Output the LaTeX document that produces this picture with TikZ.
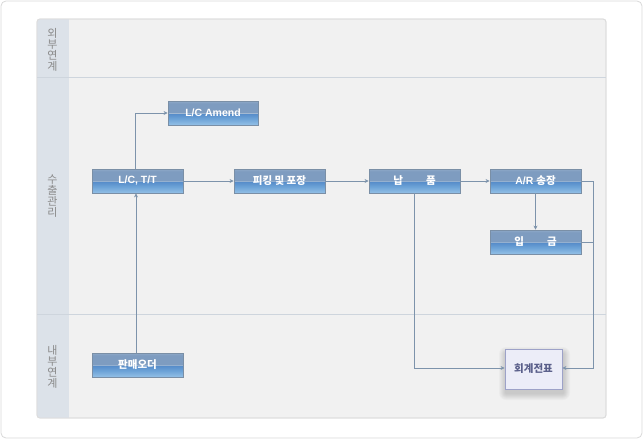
\documentclass[tikz,border=0pt]{standalone}
\usepackage{fontspec}
\setmainfont{Liberation Sans}
\newfontfamily\kr{Noto Sans CJK KR}
\usetikzlibrary{arrows.meta,calc}

\definecolor{framegray}{HTML}{D9D9D9}
\definecolor{panelfill}{HTML}{F1F1F1}
\definecolor{panelline}{HTML}{DCDCDC}
\definecolor{lanefill}{HTML}{DCE2E9}
\definecolor{laneline}{HTML}{CED5DD}
\definecolor{lanetext}{HTML}{8A8A8A}
\definecolor{wire}{HTML}{7D93AB}
\definecolor{boxedge}{HTML}{7A8FA6}
\definecolor{bbot}{HTML}{93C0E6}
\definecolor{bmid}{HTML}{6DA3D7}
\definecolor{bdeep}{HTML}{558BC9}
\definecolor{bband}{HTML}{A3B9D2}
\definecolor{btopa}{HTML}{7E9CC0}
\definecolor{btop}{HTML}{8FA9C8}
\definecolor{notefill}{HTML}{ECEDF8}
\definecolor{noteedge}{HTML}{9DA2C8}
\definecolor{notetext}{HTML}{5A5F8A}

\pgfdeclareverticalshading{boxgrad}{100bp}{%
  color(0bp)=(bbot); color(25bp)=(bbot); color(38bp)=(bmid);
  color(49bp)=(bdeep); color(50bp)=(bband); color(51.5bp)=(btopa);
  color(70bp)=(btopa); color(75bp)=(btop); color(100bp)=(btop)}

\tikzset{
  stepbox/.style={draw=boxedge, line width=0.8pt, shading=boxgrad,
    minimum width=91pt, minimum height=24pt, inner sep=0pt,
    text=white, font=\bfseries\fontsize{10.5}{12}\selectfont},
  notebox/.style={draw=noteedge, line width=0.8pt, fill=notefill,
    minimum width=57pt, minimum height=40pt, inner sep=0pt,
    text=notetext, font=\kr\bfseries\fontsize{10.5}{12}\selectfont},
  lanelabel/.style={text=lanetext, align=center,
    font=\kr\fontsize{11}{11}\selectfont},
  flow/.style={draw=wire, line width=0.8pt},
  flowarrow/.style={flow, -{Stealth[length=4pt,width=4pt]}},
}

\begin{document}
\begin{tikzpicture}[x=1pt,y=-1pt]
  \useasboundingbox (0,0) rectangle (643,439);
  % outer frame
  \node[draw=framegray, fill=white, rounded corners=5pt, line width=0.8pt,
    minimum width=641pt, minimum height=437pt, inner sep=0pt] (frame) at (321.5,219.5) {};
  % swimlane panel
  \node[draw=panelline, fill=panelfill, rounded corners=3pt, line width=0.8pt,
    minimum width=569pt, minimum height=399pt, inner sep=0pt] (panel) at (321.5,218.5) {};
  \begin{scope}
    \clip[rounded corners=3pt] (37,19) rectangle (606,418);
    \fill[lanefill] (37,19) rectangle (68.5,418);
  \end{scope}
  \draw[panelline, line width=0.8pt, rounded corners=3pt] (37,19) rectangle (606,418);
  \draw[laneline, line width=0.8pt] (37,77.5) -- (606,77.5);
  \draw[laneline, line width=0.8pt] (37,314.5) -- (606,314.5);

  % lane titles
  \node[lanelabel] (laneA) at (52.5,50) {외\\부\\연\\계};
  \node[lanelabel] (laneB) at (52.5,196) {수\\출\\관\\리};
  \node[lanelabel] (laneC) at (52.5,367) {내\\부\\연\\계};

  % process steps
  \node[stepbox, minimum width=90pt] (amend) at (213,113) {L/C Amend};
  \node[stepbox] (lctt)   at (137.5,181) {L/C, T/T};
  \node[stepbox] (pick)   at (279.5,181) {\kr 피킹 및 포장};
  \node[stepbox] (napum)  at (414.5,181) {\kr 납\hspace{2.2em}품};
  \node[stepbox] (ar)     at (535.5,181) {A/R {\kr 송장}};
  \node[stepbox] (ipgeum) at (535.5,242) {\kr 입\hspace{2.2em}금};
  \node[stepbox] (order)  at (137.5,365) {\kr 판매오더};

  % accounting voucher with soft shadow
  \foreach \s in {1,...,7}{
    \fill[black, opacity=0.022, rounded corners=\s pt]
      (505-\s+1,349-\s+5) rectangle (562+\s+1,389+\s+4);
  }
  \node[notebox] (voucher) at (533.5,369) {회계전표};

  % connectors
  \coordinate (busTop) at (593,181);
  \coordinate (busBot) at (593,368);
  \draw[flowarrow] ([xshift=-2pt]lctt.north) |- (amend.west);
  \draw[flowarrow] ([xshift=-1.5pt]order.north) -- ([xshift=-1.5pt]lctt.south);
  \draw[flowarrow] (lctt.east) -- (pick.west);
  \draw[flowarrow] (pick.east) -- (napum.west);
  \draw[flowarrow] (napum.east) -- (ar.west);
  \draw[flowarrow] (ar.south) -- (ipgeum.north);
  \draw[flowarrow] (ar.east) -- (busTop) -- (busBot) -- (busBot -| voucher.east);
  \draw[flow] (ipgeum.east) -- (ipgeum.east -| busTop);
  \draw[flowarrow] (napum.south) |- (napum.south |- busBot) -- (busBot -| voucher.west);
\end{tikzpicture}
\end{document}
